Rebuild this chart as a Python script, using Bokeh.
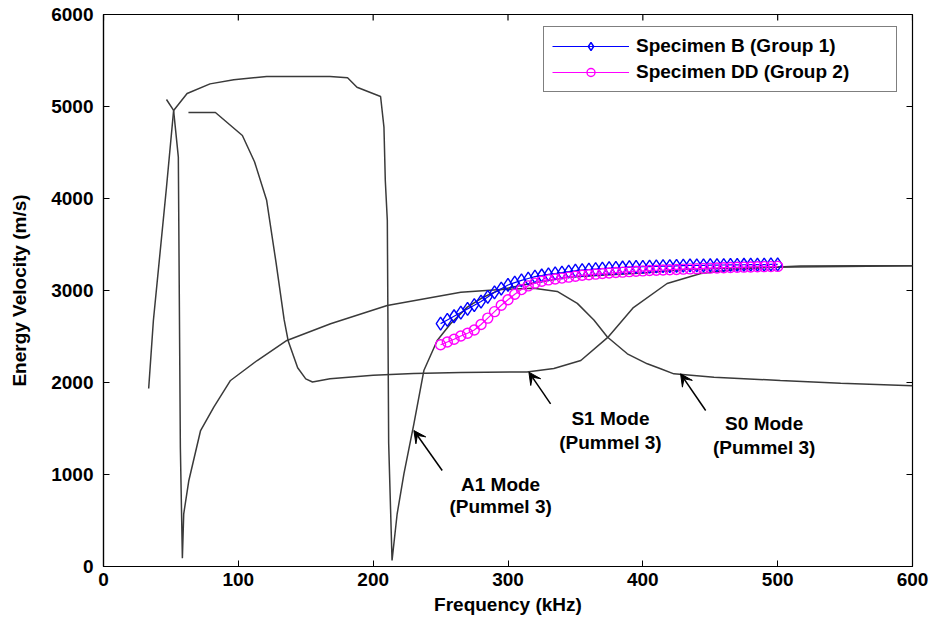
import math
from bokeh.plotting import figure
from bokeh.models import (Range1d, Legend, LegendItem, Arrow, VeeHead,
                          ColumnDataSource, FixedTicker)
from bokeh.core.properties import value
from bokeh.embed import file_html
from bokeh.resources import INLINE

FONT = "Liberation Sans"

# ---------------- data ----------------
x_ticks = [0, 100, 200, 300, 400, 500, 600]
y_ticks = [0, 1000, 2000, 3000, 4000, 5000, 6000]

# Pummel dispersion curves (frequency kHz, energy velocity m/s)
curve_a_f = [33.5, 37, 46.7, 52, 62, 79, 96.6, 121, 168, 181, 188, 205.5, 208, 209, 210.5,
             211.5, 214, 217.8, 222.8, 230.2, 237.6, 247.5, 257.4, 269.8, 282, 294.5, 320,
             344, 369, 400, 433, 492, 550, 600]
curve_a_v = [1935, 2674, 4120, 4957, 5141, 5246, 5290, 5326, 5326, 5312, 5210, 5109, 4775,
             4196, 3760, 1340, 65, 573, 1007, 1551, 2130, 2457, 2638, 2819, 2930, 3010, 3085,
             3145, 3165, 3190, 3230, 3253, 3262, 3268]

curve_s0_f = [46.7, 52, 55.5, 57, 58.5, 59.5, 63.3, 72, 81.8, 94.2, 114, 136, 168.4, 210.4,
              265, 294.5, 319, 336.5, 351.4, 363.7, 373.7, 388.5, 403.3, 413.2, 423, 452.8,
              502, 546.7, 600]
curve_s0_v = [5076, 4957, 4450, 1300, 90, 573, 935, 1478, 1732, 2022, 2239, 2457, 2638, 2837,
              2982, 3010, 3025, 2990, 2860, 2680, 2495, 2312, 2203, 2149, 2094, 2058, 2022,
              1993, 1965]

curve_s1_f = [63, 83, 103, 112, 121, 128, 134, 137, 144, 150, 155, 168, 200, 230, 265, 314,
              334, 354, 374, 393, 418, 443, 470, 492, 517, 560, 600]
curve_s1_v = [4935, 4935, 4685, 4400, 3980, 3300, 2680, 2450, 2160, 2040, 2005, 2040, 2080,
              2098, 2109, 2115, 2152, 2239, 2490, 2815, 3076, 3185, 3230, 3250, 3265, 3270, 3270]

# measured specimens
spec_f = [250, 255, 260, 265, 270, 275, 280, 285, 290, 295, 300, 305, 310, 315, 320, 325,
          330, 335, 340, 345, 350, 355, 360, 365, 370, 375, 380, 385, 390, 395, 400, 405,
          410, 415, 420, 425, 430, 435, 440, 445, 450, 455, 460, 465, 470, 475, 480, 485,
          490, 495, 500]
spec_b_v = [2640, 2680, 2720, 2760, 2800, 2840, 2880, 2930, 2980, 3020, 3060, 3085, 3110,
            3130, 3150, 3163, 3175, 3185, 3195, 3205, 3215, 3222, 3228, 3233, 3238, 3242,
            3246, 3250, 3253, 3256, 3258, 3260, 3262, 3264, 3266, 3268, 3270, 3272, 3273,
            3274, 3275, 3276, 3277, 3278, 3279, 3280, 3281, 3282, 3282, 3283, 3283]
spec_dd_v = [2410, 2440, 2470, 2505, 2535, 2570, 2630, 2700, 2770, 2840, 2900, 2960, 3010,
             3050, 3080, 3100, 3115, 3125, 3135, 3145, 3155, 3165, 3172, 3178, 3184, 3190,
             3195, 3200, 3205, 3209, 3213, 3217, 3220, 3223, 3226, 3229, 3232, 3235, 3238,
             3240, 3243, 3245, 3248, 3250, 3252, 3254, 3256, 3258, 3259, 3260, 3262]

# annotations
label_f = [376, 376, 490, 490, 294.5, 294.5]
label_v = [1605, 1351, 1551, 1290, 891, 652]
label_text = ["S1 Mode", "(Pummel 3)", "S0 Mode", "(Pummel 3)", "A1 Mode", "(Pummel 3)"]
arrow_f0 = [331.6, 446.6, 251.2]
arrow_v0 = [1768, 1696, 1043]
arrow_f1 = [315.5, 428, 230.2]
arrow_v1 = [2112, 2094, 1478]

X_MAX = 600
Y_MAX = 6000

# ---------------- figure ----------------
p = figure(width=930, height=625, output_backend="svg", toolbar_location=None,
           x_range=Range1d(0, X_MAX), y_range=Range1d(0, Y_MAX),
           min_border_left=103, min_border_right=18, min_border_top=14,
           min_border_bottom=59)
p.xgrid.visible = False
p.ygrid.visible = False
p.outline_line_color = "black"
p.outline_line_width = 1.2

line_color = "#3a3a3a"
for fx, vy in [(curve_a_f, curve_a_v), (curve_s0_f, curve_s0_v), (curve_s1_f, curve_s1_v)]:
    p.line(fx, vy, line_color=line_color, line_width=1.5)

lb = p.line(spec_f, spec_b_v, line_color="#0000ff", line_width=1.2)
sb = p.scatter(spec_f, spec_b_v, marker="diamond", size=13,
               fill_color=None, line_color="#0000ff", line_width=1.4)
ld = p.line(spec_f, spec_dd_v, line_color="#ff00ff", line_width=1.2)
sd = p.scatter(spec_f, spec_dd_v, marker="circle", size=10, fill_color=None,
               line_color="#ff00ff", line_width=1.4)

# box ticks on top and right (inward, clipped by the frame)
p.scatter(x_ticks, [Y_MAX] * len(x_ticks), marker="dash", angle=math.pi / 2, size=12,
          line_color="black", line_width=1.2)
p.scatter([X_MAX] * len(y_ticks), y_ticks, marker="dash", size=12,
          line_color="black", line_width=1.2)

# arrows
arrow_src = ColumnDataSource(dict(x0=arrow_f0, y0=arrow_v0, x1=arrow_f1, y1=arrow_v1))
p.add_layout(Arrow(end=VeeHead(size=12, fill_color="black", line_color="black", line_width=1),
                   x_start="x0", y_start="y0", x_end="x1", y_end="y1",
                   line_color="black", line_width=1.5, source=arrow_src))

p.text(x=label_f, y=label_v, text=label_text, text_align="center", text_baseline="middle",
       text_font=value(FONT), text_font_style=value("bold"), text_font_size=value("19px"),
       text_color="black")

# axes
for ax in (p.xaxis[0], p.yaxis[0]):
    ax.axis_line_color = "black"
    ax.axis_line_width = 1.2
    ax.major_tick_in = 6
    ax.major_tick_out = 0
    ax.minor_tick_line_color = None
    ax.major_tick_line_color = "black"
    ax.major_label_text_font = FONT
    ax.major_label_text_font_style = "bold"
    ax.major_label_text_font_size = "19px"
    ax.major_label_text_color = "black"
    ax.axis_label_text_font = FONT
    ax.axis_label_text_font_style = "bold"
    ax.axis_label_text_font_size = "19px"
    ax.axis_label_text_color = "black"

p.xaxis.ticker = FixedTicker(ticks=x_ticks)
p.yaxis.ticker = FixedTicker(ticks=y_ticks)
p.xaxis.axis_label = "Frequency (kHz)"
p.yaxis.axis_label = "Energy Velocity (m/s)"
p.xaxis.major_label_standoff = 6
p.xaxis.axis_label_standoff = 5
p.yaxis.major_label_standoff = 10
p.yaxis.axis_label_standoff = 18

legend = Legend(items=[LegendItem(label="Specimen B (Group 1)", renderers=[lb, sb]),
                       LegendItem(label="Specimen DD (Group 2)", renderers=[ld, sd])],
                location=(440, 474))
legend.label_text_font = FONT
legend.label_text_font_style = "bold"
legend.label_text_font_size = "19px"
legend.label_text_color = "black"
legend.glyph_width = 77
legend.glyph_height = 20
legend.label_height = 20
legend.label_standoff = 7
legend.label_width = 252
legend.padding = 8
legend.spacing = 4
legend.margin = 0
legend.border_line_color = "black"
legend.border_line_width = 1.2
legend.background_fill_color = "white"
legend.background_fill_alpha = 1
p.add_layout(legend)

open("out.html", "w").write(file_html(p, INLINE))
